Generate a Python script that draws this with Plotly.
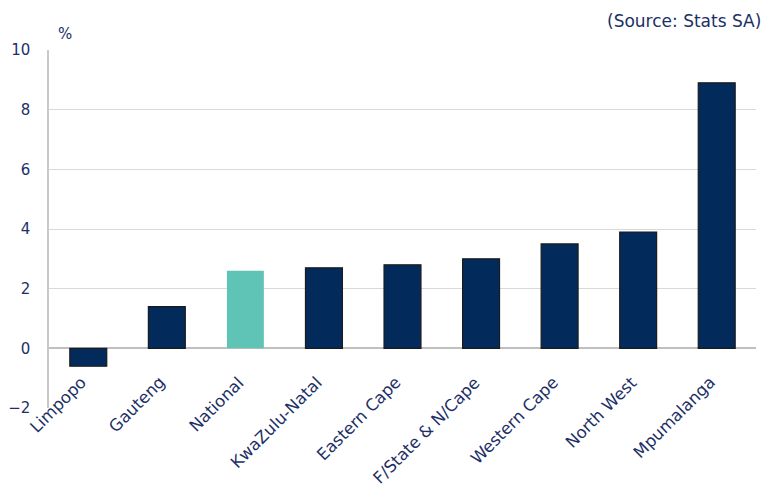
import plotly.graph_objects as go

categories = ["Limpopo", "Gauteng", "National", "KwaZulu-Natal", "Eastern Cape",
              "F/State & N/Cape", "Western Cape", "North West", "Mpumalanga"]
values = [-0.6, 1.4, 2.6, 2.7, 2.8, 3.0, 3.5, 3.9, 8.9]
y_ticks = [-2, 0, 2, 4, 6, 8, 10]

navy = "#022b5c"
teal = "#5fc3b5"
text_color = "#1c2f66"

colors = [teal if c == "National" else navy for c in categories]
line_colors = ["rgba(0,0,0,0)" if c == "National" else "#1a1a1a" for c in categories]
line_widths = [0 if c == "National" else 1.2 for c in categories]

fig = go.Figure(go.Bar(
    x=categories, y=values,
    marker=dict(color=colors, line=dict(color=line_colors, width=line_widths)),
    width=0.47,
))

# category labels sit next to the zero line (as in the source chart)
label_anns = [
    dict(text=c, x=c, y=0, xref="x", yref="y", textangle=-45,
         xanchor="right", yanchor="top", showarrow=False, xshift=5, yshift=-22,
         font=dict(size=16.5, color=text_color))
    for c in categories
]

fig.update_layout(
    width=772, height=485,
    margin=dict(l=41, r=24, t=42, b=85),
    plot_bgcolor="white", paper_bgcolor="white",
    font=dict(family="DejaVu Sans, sans-serif", color=text_color, size=15),
    showlegend=False,
    annotations=label_anns + [
        dict(text="(Source: Stats SA)", xref="paper", yref="paper", x=1.01, y=1.08,
             xanchor="right", yanchor="middle", showarrow=False,
             font=dict(size=17, color=text_color)),
        dict(text="%", xref="paper", yref="paper", x=0.01, y=1.015,
             xanchor="left", yanchor="bottom", showarrow=False,
             font=dict(size=15, color=text_color)),
    ],
)
fig.update_xaxes(
    range=[-0.5, len(categories) - 0.5], autorange=False,
    showticklabels=False, showgrid=False, showline=False, ticks="", automargin=False,
)
fig.update_yaxes(
    range=[-2, 10], autorange=False, tickvals=y_ticks, showgrid=True,
    gridcolor="#d9d9d9", gridwidth=1,
    showline=True, linecolor="#c8c8c8", linewidth=1.5, automargin=False,
    zeroline=True, zerolinecolor="#bfbfbf", zerolinewidth=1.5,
    ticks="outside", ticklen=14, tickcolor="rgba(0,0,0,0)",
    tickfont=dict(size=15, color=text_color),
)

fig.write_html("out.html")
